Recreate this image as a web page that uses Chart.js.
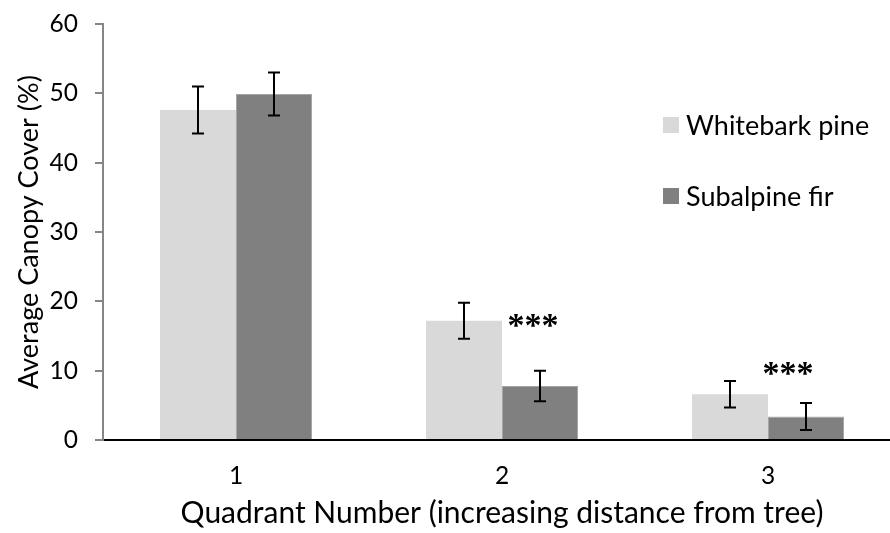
<!DOCTYPE html>
<html>
<head>
<meta charset="utf-8">
<script src="https://cdn.jsdelivr.net/npm/chart.js@4.4.1/dist/chart.umd.min.js"></script>
<style>
  html, body { margin: 0; padding: 0; background: #fff; }
  #wrap { width: 890px; height: 533px; overflow: hidden; }
  canvas { display: block; }
</style>
</head>
<body>
<div id="wrap">
  <canvas id="chart" width="912" height="533"></canvas>
</div>
<script>
const quadrants = ["1", "2", "3"];
const whitebark = [47.6, 17.2, 6.6];
const whitebarkErr = [3.4, 2.6, 1.9];
const subalpine = [49.9, 7.8, 3.4];
const subalpineErr = [3.1, 2.2, 1.95];
const signif = ["", "***", "***"];
const signifAt = [null, 17.4, 10.5];
const yTicks = [0, 10, 20, 30, 40, 50, 60];

const FONT = "Lato, 'Open Sans', sans-serif";

// error bars drawn on top of the bars
const errorBars = {
  id: "errorBars",
  afterDatasetsDraw(chart) {
    const ctx = chart.ctx;
    const y = chart.scales.y;
    ctx.save();
    ctx.strokeStyle = "#000";
    ctx.lineWidth = 2;
    chart.data.datasets.forEach((ds, i) => {
      const meta = chart.getDatasetMeta(i);
      meta.data.forEach((bar, j) => {
        const v = ds.data[j], e = ds.errors[j];
        const top = y.getPixelForValue(v + e);
        const bot = y.getPixelForValue(v - e);
        ctx.beginPath();
        ctx.moveTo(bar.x, top); ctx.lineTo(bar.x, bot);
        ctx.moveTo(bar.x - 6, top); ctx.lineTo(bar.x + 6, top);
        ctx.moveTo(bar.x - 6, bot); ctx.lineTo(bar.x + 6, bot);
        ctx.stroke();
      });
    });
    ctx.restore();
  }
};

// significance stars next to the subalpine bars
const stars = {
  id: "stars",
  afterDatasetsDraw(chart) {
    const ctx = chart.ctx;
    const meta = chart.getDatasetMeta(1);
    const shift = [0, -7, -18];
    ctx.save();
    ctx.fillStyle = "#000";
    ctx.font = "bold 34px 'Liberation Serif', serif";
    ctx.textAlign = "center";
    ctx.textBaseline = "middle";
    signif.forEach((s, j) => {
      if (!s) return;
      const py = chart.scales.y.getPixelForValue(signifAt[j]);
      ctx.fillText(s, meta.data[j].x + shift[j], py + 8);
    });
    ctx.restore();
  }
};

// legend sits inside the plot, right side
const sideLegend = {
  id: "sideLegend",
  afterDraw(chart) {
    const ctx = chart.ctx;
    const rows = [125, 196];
    ctx.save();
    ctx.font = "27px " + FONT;
    ctx.textBaseline = "middle";
    ctx.textAlign = "left";
    chart.data.datasets.forEach((ds, i) => {
      ctx.fillStyle = ds.backgroundColor;
      ctx.fillRect(663, rows[i] - 8, 16, 16);
      ctx.fillStyle = "#000";
      ctx.fillText(ds.label, 686, rows[i] + 1);
    });
    ctx.restore();
  }
};

new Chart(document.getElementById("chart"), {
  type: "bar",
  data: {
    labels: quadrants,
    datasets: [
      {
        label: "Whitebark pine",
        data: whitebark,
        errors: whitebarkErr,
        backgroundColor: "#d9d9d9",
        borderWidth: 0
      },
      {
        label: "Subalpine fir",
        data: subalpine,
        errors: subalpineErr,
        backgroundColor: "#808080",
        borderColor: "#a6a6a6",
        borderWidth: 1
      }
    ]
  },
  options: {
    responsive: false,
    animation: false,
    categoryPercentage: 0.5714,
    barPercentage: 1.0,
    layout: { padding: { left: 0, top: 24, right: 11, bottom: 0 } },
    plugins: {
      legend: { display: false },
      tooltip: { enabled: false }
    },
    scales: {
      x: {
        grid: { display: false, drawTicks: false },
        border: { display: true, color: "#000", width: 2 },
        ticks: { color: "#000", font: { family: FONT, size: 24.5 }, padding: 21 },
        title: {
          display: true,
          text: "Quadrant Number (increasing distance from tree)",
          color: "#000",
          font: { family: FONT, size: 30 },
          padding: { top: 0, bottom: 2 }
        },
        afterFit(scale) { scale.height = 93; }
      },
      y: {
        min: 0,
        max: 60,
        afterBuildTicks(scale) { scale.ticks = yTicks.map(v => ({ value: v })); },
        grid: { drawOnChartArea: false, drawTicks: true, tickLength: 8, color: "#868686", lineWidth: 2 },
        border: { display: true, color: "#868686", width: 2 },
        ticks: { color: "#000", font: { family: FONT, size: 24.5 }, padding: 17 },
        title: {
          display: true,
          text: "Average Canopy Cover (%)",
          color: "#000",
          font: { family: FONT, size: 27 },
          padding: { top: 13, bottom: 0 }
        },
        afterFit(scale) {
          scale.width = 103;
          scale.paddingTop = 0;
          scale.paddingBottom = 0;
        }
      }
    }
  },
  plugins: [errorBars, stars, sideLegend]
});
</script>
</body>
</html>
